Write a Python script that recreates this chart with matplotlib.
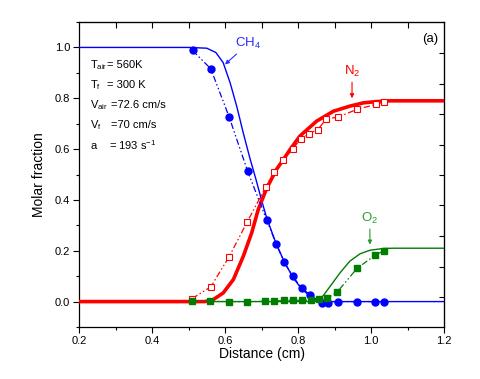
import numpy as np
import matplotlib
matplotlib.use("Agg")
import matplotlib.pyplot as plt

plt.rcParams['font.family'] = ['Liberation Sans', 'DejaVu Sans']
plt.rcParams['mathtext.fontset'] = 'custom'
plt.rcParams['mathtext.rm'] = 'Liberation Sans'
plt.rcParams['mathtext.it'] = 'Liberation Sans:italic'

# measured points (symbols)
x_ch4 = [0.511, 0.561, 0.611, 0.662, 0.714, 0.740, 0.762, 0.785, 0.810, 0.834,
         0.865, 0.883, 0.910, 0.962, 1.011, 1.036]
y_ch4 = [0.988, 0.916, 0.728, 0.513, 0.322, 0.228, 0.156, 0.100, 0.054, 0.025,
         -0.005, -0.005, 0.0, 0.0, 0.0, -0.002]

x_n2 = [0.510, 0.561, 0.611, 0.661, 0.712, 0.735, 0.760, 0.785, 0.807, 0.831,
        0.854, 0.878, 0.910, 0.961, 1.013, 1.036]
y_n2 = [0.012, 0.058, 0.176, 0.314, 0.452, 0.511, 0.556, 0.601, 0.638, 0.661,
        0.677, 0.719, 0.726, 0.756, 0.776, 0.786]

x_o2 = [0.510, 0.559, 0.611, 0.661, 0.710, 0.735, 0.762, 0.785, 0.810, 0.835,
        0.858, 0.880, 0.907, 0.962, 1.011, 1.036]
y_o2 = [0.001, 0.001, 0.0, 0.0, 0.001, 0.001, 0.005, 0.005, 0.005, 0.005,
        0.011, 0.013, 0.037, 0.131, 0.182, 0.201]

# computed profiles (solid lines)
xs_ch4 = [0.2, 0.5, 0.55, 0.575, 0.595, 0.614, 0.632, 0.650, 0.668, 0.685, 0.70,
          0.714, 0.740, 0.763, 0.787, 0.81, 0.833, 0.851, 0.87, 1.2]
ys_ch4 = [1.0, 1.0, 0.997, 0.98, 0.94, 0.861, 0.769, 0.664, 0.565, 0.48, 0.40,
          0.33, 0.228, 0.155, 0.093, 0.05, 0.021, 0.004, 0.0, 0.0]

xs_n2 = [0.2, 0.545, 0.568, 0.595, 0.623, 0.650, 0.673, 0.691, 0.714, 0.741, 0.76,
         0.778, 0.805, 0.851, 0.897, 0.942, 0.979, 1.015, 1.052, 1.2]
ys_n2 = [0.0, 0.0, 0.008, 0.034, 0.087, 0.178, 0.27, 0.362, 0.445, 0.52, 0.559,
         0.598, 0.651, 0.71, 0.749, 0.769, 0.782, 0.787, 0.79, 0.79]

xs_o2 = [0.2, 0.845, 0.856, 0.870, 0.888, 0.915, 0.942, 0.97, 0.997, 1.034, 1.06, 1.2]
ys_o2 = [0.0, 0.0, 0.003, 0.025, 0.06, 0.113, 0.159, 0.188, 0.202, 0.209, 0.21, 0.21]

blue = '#0000ff'
red = '#ff0000'
green = '#007d00'
dashdotdot = (0, (5, 2, 1.2, 2, 1.2, 2))

fig = plt.figure(figsize=(4.8, 3.79), dpi=100)
ax = fig.add_axes([0.1646, 0.1372, 0.7604, 0.8047])

# solid model lines
ax.plot(xs_ch4, ys_ch4, color=blue, lw=1.0, zorder=3)
ax.plot(xs_o2, ys_o2, color=green, lw=1.0, zorder=3)
ax.plot(xs_n2, ys_n2, color=red, lw=2.6, zorder=4)

# experimental symbols with dash-dot-dot lines
ax.plot(x_n2, y_n2, color=red, lw=0.9, ls=dashdotdot, marker='s', ms=4.8,
        mfc='white', mec=red, mew=0.8, zorder=5)
ax.plot(x_ch4, y_ch4, color=blue, lw=0.9, ls=dashdotdot, marker='o', ms=5,
        mfc=blue, mec=blue, zorder=6)
ax.plot(x_o2, y_o2, color=green, lw=0.9, ls=dashdotdot, marker='s', ms=4.5,
        mfc=green, mec=green, zorder=6)

ax.set_xlim(0.2, 1.2)
ax.set_ylim(-0.1, 1.1)
ax.set_xticks(np.arange(0.2, 1.21, 0.2))
ax.set_xticks(np.arange(0.3, 1.2, 0.2), minor=True)
ax.set_yticks(np.arange(0.0, 1.01, 0.2))
ax.set_yticks(np.arange(-0.1, 1.1, 0.2), minor=True)
ax.set_xticklabels(['%.1f' % v for v in np.arange(0.2, 1.21, 0.2)])
ax.set_yticklabels(['%.1f' % v for v in np.arange(0.0, 1.01, 0.2)])
ax.tick_params(which='major', direction='out', length=4.5, width=0.8,
               labelsize=8, top=False, right=False, pad=2)
ax.tick_params(which='minor', direction='out', length=2.5, width=0.8,
               top=False, right=False)
for s in ax.spines.values():
    s.set_linewidth(0.9)

# top ticks (inward, every 0.1)
axt = ax.secondary_xaxis('top')
axt.set_xticks(np.arange(0.3, 1.2, 0.1))
axt.tick_params(direction='in', length=4, width=0.8, labeltop=False)
# right ticks (inward)
axr = ax.secondary_yaxis('right')
axr.set_yticks([0.020, 0.138, 0.260, 0.382, 0.498, 0.618, 0.740, 0.858, 0.980])
axr.tick_params(direction='in', length=3.5, width=0.8, labelright=False)

ax.set_xlabel('Distance (cm)', fontsize=10, labelpad=1)
ax.set_ylabel('Molar fraction', fontsize=10, labelpad=6)

# species labels
ax.annotate('CH$_4$', xy=(0.600, 0.933), xytext=(0.627, 0.985), color='#2a2aff',
            fontsize=9.5, ha='left', va='bottom',
            arrowprops=dict(arrowstyle='-|>', color='#2a2aff', lw=0.8,
                            mutation_scale=6, shrinkA=0, shrinkB=0))
ax.annotate('N$_2$', xy=(0.948, 0.80), xytext=(0.948, 0.874), color=red,
            fontsize=9.5, ha='center', va='bottom',
            arrowprops=dict(arrowstyle='-|>', color=red, lw=0.8,
                            mutation_scale=6, shrinkA=0, shrinkB=0))
ax.annotate('O$_2$', xy=(0.997, 0.224), xytext=(0.997, 0.296), color='#2a9a2a',
            fontsize=9.5, ha='center', va='bottom',
            arrowprops=dict(arrowstyle='-|>', color='#2a9a2a', lw=0.8,
                            mutation_scale=6, shrinkA=0, shrinkB=0))

ax.text(0.985, 0.945, '(a)', transform=ax.transAxes, fontsize=9.5,
        ha='right', va='center')

# parameter block
names = [r'T$_\mathrm{air}$', r'T$_\mathrm{f}$', r'V$_\mathrm{air}$',
         r'V$_\mathrm{f}$', 'a']
values = ['= 560K', '= 300 K', '=72.6 cm/s', '=70 cm/s', '= 193 s$^{-1}$']
val_x = [0.2755, 0.2755, 0.288, 0.288, 0.281]
y0 = 0.93
for i in range(len(names)):
    yy = y0 - i * 0.079
    ax.text(0.231, yy, names[i], fontsize=8, ha='left', va='center')
    ax.text(val_x[i], yy, values[i], fontsize=8, ha='left', va='center')

fig.savefig('out.png', dpi=100)
